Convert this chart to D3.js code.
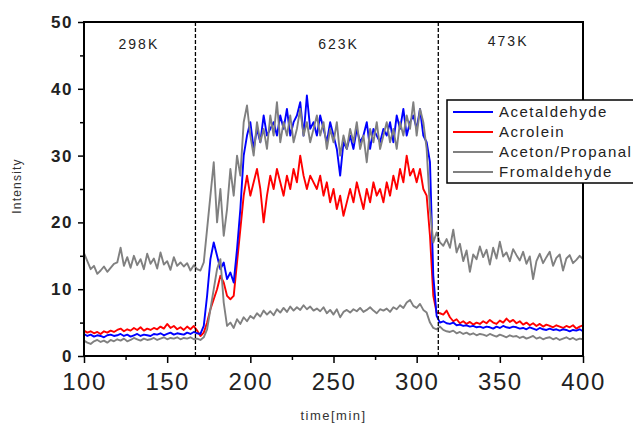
<!DOCTYPE html>
<html>
<head>
<meta charset="utf-8">
<script src="https://cdn.jsdelivr.net/npm/d3@7"></script>
<style>
  body { margin: 0; background: #fff; }
  svg { font-family: Arial, "Liberation Sans", sans-serif; }
</style>
</head>
<body>
<div id="chart"></div>
<script>
// time axis: 100..400 min, one reading every 2 min
const times = d3.range(100, 401, 2)

const acetaldehyde = [
  3.3,3.0,3.2,2.9,3.1,3.0,2.8,3.1,3.2,3.0,
  3.1,3.3,3.0,3.2,2.9,3.1,3.3,3.0,3.2,3.1,
  3.0,3.3,3.2,3.4,3.1,3.3,3.5,3.2,3.4,3.3,
  3.2,3.5,3.3,3.6,3.4,3.3,4.5,9.0,14.5,17.0,
  15.0,13.0,14.0,11.5,12.5,11.0,16.0,22.0,30.0,33.0,
  35,31,34,32,36,33,34,35,33,36,
  34,37,33,35,36,38,33,39,34,35,
  33,36,34,32,35,33,31,27,32,31,
  33,31,34,32,33,35,31,34,33,32,
  34,33,35,32,36,34,37,33,35,36,
  34,37,33,32,29,12,6.0,5.0,5.2,4.9,
  4.8,5.0,4.6,4.7,4.5,4.6,4.4,4.5,4.3,4.4,
  4.2,4.4,4.3,4.1,4.4,4.2,4.5,4.3,4.2,4.4,
  4.3,4.1,4.2,4.0,4.3,4.1,3.9,4.2,4.0,3.9,
  4.1,3.9,4.0,3.8,4.0,3.9,3.7,3.9,3.8,4.0,
  3.7
]

const acrolein = [
  3.8,3.5,3.7,3.4,3.6,3.3,3.7,3.5,3.8,3.6,
  3.9,4.1,3.7,4.0,3.8,4.2,3.9,4.3,3.8,4.1,
  3.9,4.2,4.0,4.4,4.1,4.8,4.2,4.5,4.0,4.3,
  3.9,4.4,4.0,4.5,3.8,3.0,3.5,5.0,7.0,8.5,
  10,12,11,9.0,8.5,9.0,14,19,24,27,
  24,26,28,25,20,24,27,25,28,26,
  24,27,25,28,26,30,27,25,27,26,
  25,27,24,26,23,25,22,24,21,23,
  25,23,26,24,22,25,23,26,24,25,
  23,26,24,27,25,28,26,30,27,28,
  26,28,25,24,18,9.0,6.5,6.4,6.2,6.8,
  5.8,5.2,5.5,4.9,5.2,4.8,5.1,4.7,5.0,4.8,
  5.2,4.9,5.4,5.0,4.8,5.3,5.0,5.6,5.1,5.4,
  4.9,5.2,4.7,5.0,4.6,4.9,4.5,4.8,4.4,4.7,
  4.5,4.3,4.6,4.4,4.2,4.5,4.3,4.6,4.1,4.4,
  4.6
]

const acetonPropanal = [
  15.4,14.2,13.0,13.5,12.3,12.8,13.4,12.6,13.2,13.8,
  14.0,16.2,13.5,14.8,13.2,15.0,13.6,14.5,13.0,15.3,
  13.8,14.6,13.1,15.5,13.7,14.2,12.9,14.8,13.5,14.0,
  13.4,13.9,12.8,13.6,13.0,12.8,14.0,19.0,24.0,29.0,
  20,25,18,22,28,24,30,27,35,37.5,
  33,30,35,32,34,31,36,33,38,32,
  35,33,36,32,34,37,33,35,32,34,
  36,33,35,31,34,32,35,30,33,31,
  34,32,35,31,33,29,34,32,35,31,
  33,35,32,34,31,35,33,36,34,38,
  33,37,35,31,22,17,18.5,17.0,16.5,17.5,
  16.2,18.9,15.5,16.8,14.2,15.8,12.6,15.2,14.5,16.4,
  14.8,15.9,13.7,16.2,14.6,17.1,14.9,15.5,14.2,16.0,
  15.1,14.3,15.6,13.8,14.9,11.5,14.2,15.3,13.9,14.8,
  15.6,13.5,14.7,15.2,12.8,14.6,15.1,13.9,14.4,15.0,
  14.5
]

const formaldehyde = [
  2.3,2.0,1.8,2.2,2.4,2.1,2.3,2.0,2.4,2.2,
  2.5,2.3,2.6,2.2,2.4,2.7,2.5,2.3,2.6,2.4,
  2.5,2.7,2.4,2.6,2.8,2.5,2.7,2.6,2.8,2.5,
  2.7,2.6,2.8,2.5,2.6,2.4,2.8,4.0,7.0,10.0,
  13.0,14.5,8.0,4.5,5.0,4.2,5.5,4.8,5.8,5.2,
  6.0,5.6,6.4,5.9,6.8,6.2,6.7,6.1,7.0,6.5,
  7.2,6.6,7.4,6.8,7.3,6.9,7.6,7.0,7.4,6.8,
  7.1,6.7,7.3,6.4,6.9,6.2,7.0,5.8,6.6,6.9,
  6.5,7.0,6.7,7.2,6.6,6.9,7.3,6.8,6.4,7.0,
  6.8,7.1,6.6,7.3,7.0,7.6,7.2,8.0,8.4,7.5,
  7.2,7.8,6.9,6.5,5.0,4.2,4.0,4.4,3.9,3.7,
  3.6,3.8,3.4,3.6,3.3,3.5,3.2,3.4,3.1,3.3,
  3.2,3.0,3.3,3.1,2.9,3.2,3.0,2.8,3.1,2.9,
  3.0,2.7,2.9,2.6,2.8,3.0,2.6,2.8,2.5,2.7,
  2.8,2.5,2.7,2.4,2.6,2.8,2.5,2.7,2.4,2.6,
  2.5
]

const seriesNames = ["Acetaldehyde", "Acrolein", "Aceton/Propanal", "Fromaldehyde"]
const seriesColors = ["#0000ff", "#ff0000", "#808080", "#808080"]
const seriesValues = [acetaldehyde, acrolein, acetonPropanal, formaldehyde]

const stageBounds = [167, 313]          // dashed dividers (min)
const stageLabels = ["298K", "623K", "473K"]
const stageLabelTimes = [133, 253, 355]

const xTicks = [100, 150, 200, 250, 300, 350, 400]
const yTicks = [0, 10, 20, 30, 40, 50]

const W = 633, H = 425
const margin = {top: 22, right: 50, bottom: 69, left: 84}
const iw = W - margin.left - margin.right
const ih = H - margin.top - margin.bottom

const x = d3.scaleLinear().domain([100, 400]).range([0, iw])
const y = d3.scaleLinear().domain([0, 50]).range([ih, 0])

const svg = d3.select("#chart").append("svg")
    .attr("width", W)
    .attr("height", H)

const g = svg.append("g")
    .attr("transform", `translate(${margin.left},${margin.top})`)

g.append("clipPath").attr("id", "clip")
  .append("rect").attr("width", iw).attr("height", ih)

// minor ticks first
g.append("g")
    .attr("transform", `translate(0,${ih})`)
    .call(d3.axisBottom(x).tickValues(d3.range(125, 400, 50)).tickSize(4).tickFormat(""))
    .call(a => a.select(".domain").remove())
    .selectAll("line").attr("stroke-width", 1.5)

g.append("g")
    .call(d3.axisLeft(y).tickValues(d3.range(5, 50, 10)).tickSize(4).tickFormat(""))
    .call(a => a.select(".domain").remove())
    .selectAll("line").attr("stroke-width", 1.5)

const xAxis = g.append("g")
    .attr("transform", `translate(0,${ih})`)
    .call(d3.axisBottom(x).tickValues(xTicks).tickSize(7).tickPadding(10))
xAxis.select(".domain").remove()
xAxis.selectAll("line").attr("stroke-width", 1.5)
xAxis.selectAll("text")
    .attr("font-size", 24)
    .attr("font-family", "Arial, 'Liberation Sans', sans-serif")
    .attr("letter-spacing", 1.5)
    .attr("fill", "#222")

const yAxis = g.append("g")
    .call(d3.axisLeft(y).tickValues(yTicks).tickSize(6).tickPadding(5))
yAxis.select(".domain").remove()
yAxis.selectAll("line").attr("stroke-width", 1.5)
yAxis.selectAll("text")
    .attr("font-size", 17)
    .attr("font-weight", "bold")
    .attr("font-family", "Arial, 'Liberation Sans', sans-serif")
    .attr("letter-spacing", 1.5)
    .attr("fill", "#222")

// series lines (greys on top like the original)
const line = d3.line()
    .x((d, i) => x(times[i]))
    .y(d => y(d))

const drawOrder = [1, 0, 3, 2]
g.append("g").attr("clip-path", "url(#clip)")
  .selectAll("path")
  .data(drawOrder)
  .enter()
  .append("path")
    .attr("d", k => line(seriesValues[k]))
    .attr("fill", "none")
    .attr("stroke", k => seriesColors[k])
    .attr("stroke-width", 1.9)
    .attr("stroke-linejoin", "round")

// stage dividers
g.selectAll(".divider")
  .data(stageBounds)
  .enter()
  .append("line")
    .attr("class", "divider")
    .attr("x1", d => x(d)).attr("x2", d => x(d))
    .attr("y1", 0).attr("y2", ih)
    .attr("stroke", "#000")
    .attr("stroke-width", 1.3)
    .attr("stroke-dasharray", "4,2")

g.selectAll(".stage")
  .data(stageLabels)
  .enter()
  .append("text")
    .attr("class", "stage")
    .attr("x", (d, i) => x(stageLabelTimes[i]))
    .attr("y", (d, i) => i === 2 ? 24 : 27)
    .attr("text-anchor", "middle")
    .attr("font-size", 14)
    .attr("letter-spacing", 2)
    .attr("fill", "#222")
    .text(d => d)

// frame
g.append("rect")
    .attr("width", iw).attr("height", ih)
    .attr("fill", "none")
    .attr("stroke", "#000")
    .attr("stroke-width", 2)

// legend
const legend = svg.append("g").attr("transform", "translate(447,100)")
legend.append("rect")
    .attr("width", 200).attr("height", 83)
    .attr("fill", "#fff")
    .attr("stroke", "#000")
    .attr("stroke-width", 1.5)

const item = legend.selectAll(".item")
  .data(seriesNames)
  .enter()
  .append("g")
    .attr("class", "item")
    .attr("transform", (d, i) => `translate(0,${12 + i * 20})`)

item.append("line")
    .attr("x1", 6).attr("x2", 46)
    .attr("stroke", (d, i) => seriesColors[i])
    .attr("stroke-width", 2)

item.append("text")
    .attr("x", 52).attr("dy", "0.35em")
    .attr("font-size", 15)
    .attr("letter-spacing", 1.5)
    .attr("fill", "#222")
    .text(d => d)

// axis titles
svg.append("text")
    .attr("x", margin.left + x(250))
    .attr("y", 420)
    .attr("text-anchor", "middle")
    .attr("font-size", 13)
    .attr("letter-spacing", 1.5)
    .attr("fill", "#333")
    .text("time[min]")

svg.append("text")
    .attr("transform", "translate(21,186) rotate(-90)")
    .attr("text-anchor", "middle")
    .attr("font-size", 12)
    .attr("letter-spacing", 1.2)
    .attr("fill", "#333")
    .text("Intensity")
</script>
</body>
</html>
